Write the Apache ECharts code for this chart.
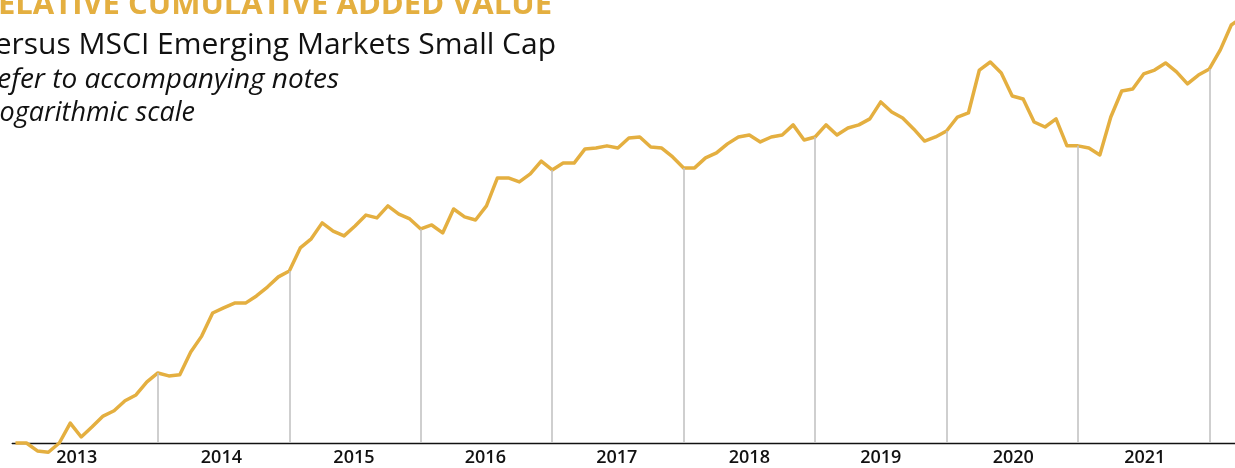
<!DOCTYPE html>
<html lang="en">
<head>
<meta charset="utf-8">
<title>Relative Cumulative Added Value</title>
</head>
<body style="margin: 0; background: #fff">
<div id="container" style="width: 1235px; height: 468px"></div>

<script type="text/javascript" src="https://cdn.jsdelivr.net/npm/echarts@6/dist/echarts.min.js"></script>

<script type="text/javascript">
var dom = document.getElementById('container');
var myChart = echarts.init(dom);

// Index 0 is the first month shown; the series runs past the right edge.
var values = [
    100.0, 100.0, 98.2, 97.9, 100.0, 104.7, 101.4, 103.8, 106.4, 107.7, 110.2, 111.7, 115.1,
    117.5, 116.7, 117.0, 123.3, 127.9, 134.9, 136.5, 138.0, 138.0, 140.3, 143.2, 146.6,
    148.6, 156.7, 160.0, 166.0, 162.9, 161.1, 164.8, 169.0, 167.9, 172.6, 169.4, 167.5,
    163.7, 165.2, 162.2, 171.4, 168.3, 167.1, 172.6, 184.1, 184.1, 182.4, 185.8, 191.4,
    187.5, 190.5, 190.5, 196.8, 197.2, 198.2, 197.2, 201.8, 202.3, 197.7, 197.2, 193.2,
    188.4, 188.4, 192.8, 195.0, 199.1, 202.3, 203.2, 200.0, 202.3, 203.2, 208.0, 200.9,
    202.3, 208.0, 203.2, 206.5, 208.0, 210.9, 219.3, 214.3, 211.3, 206.1, 200.4, 202.3,
    205.1, 211.8, 213.8, 236.0, 240.4, 234.4, 222.3, 220.8, 209.4, 207.0, 210.9, 198.2,
    198.2, 197.2, 194.1, 211.8, 224.9, 225.9, 233.9, 236.0, 239.9, 235.0, 228.6, 233.3,
    236.6, 247.2, 261.8, 266.5
];

// year-end months (index into values) that get a drop line
var yearEnds = [13, 25, 37, 49, 61, 73, 85, 97, 109];

// year labels and the month index each one sits under
var yearLabels = ['2013', '2014', '2015', '2016', '2017', '2018', '2019', '2020', '2021'];
var yearLabelAt = [5.6, 18.8, 30.9, 42.9, 54.9, 67, 79, 91.1, 103.1];

var gold = '#e4af40';

var option = {
    animation: false,
    grid: {
        left: 12.2,
        right: 0,
        top: 0,
        bottom: 25,
        containLabel: false
    },
    xAxis: {
        type: 'value',
        min: -0.3,
        max: 111.34,
        splitLine: { show: false },
        axisTick: { show: false },
        axisLine: { show: true, lineStyle: { color: '#111', width: 1.3 } },
        axisLabel: {
            customValues: yearLabelAt,
            margin: 6,
            color: '#111',
            fontFamily: 'Open Sans',
            fontWeight: 600,
            fontSize: 18,
            formatter: function (value) {
                var k = 0;
                for (var i = 1; i < yearLabelAt.length; i++) {
                    if (Math.abs(yearLabelAt[i] - value) < Math.abs(yearLabelAt[k] - value)) k = i;
                }
                return yearLabels[k];
            }
        }
    },
    yAxis: {
        type: 'log',
        logBase: 10,
        min: 100,
        max: 277.3,
        show: false,
        splitLine: { show: false }
    },
    graphic: [
        {
            type: 'text',
            style: {
                text: 'RELATIVE CUMULATIVE ADDED VALUE',
                x: 552, y: 5,
                textAlign: 'right', textVerticalAlign: 'middle',
                font: 'bold 31px "Open Sans"',
                fill: gold
            }
        },
        {
            type: 'text',
            style: {
                text: 'Versus MSCI Emerging Markets Small Cap',
                x: 556, y: 45,
                textAlign: 'right', textVerticalAlign: 'middle',
                font: '30px "Open Sans"',
                fill: '#111'
            }
        },
        {
            type: 'text',
            style: {
                text: 'Refer to accompanying notes',
                x: 339, y: 80,
                textAlign: 'right', textVerticalAlign: 'middle',
                font: 'italic 28px "Open Sans"',
                fill: '#111'
            }
        },
        {
            type: 'text',
            style: {
                text: 'Logarithmic scale',
                x: 195, y: 113,
                textAlign: 'right', textVerticalAlign: 'middle',
                font: 'italic 27px "Open Sans"',
                fill: '#111'
            }
        }
    ],
    series: [
        {
            // carrier for the year-end drop lines, drawn under the main line
            type: 'line',
            z: 1,
            silent: true,
            showSymbol: false,
            lineStyle: { opacity: 0 },
            data: values.map(function (v, i) { return [i, v]; }),
            markLine: {
                silent: true,
                symbol: 'none',
                label: { show: false },
                lineStyle: { color: '#c3c3c3', width: 1.6, type: 'solid' },
                data: yearEnds.map(function (i) {
                    return [{ coord: [i, 100] }, { coord: [i, values[i]] }];
                })
            }
        },
        {
            type: 'line',
            z: 3,
            silent: true,
            clip: false,
            showSymbol: false,
            lineStyle: { color: gold, width: 3.5, join: 'round' },
            data: values.map(function (v, i) { return [i, v]; })
        }
    ]
};

if (option && typeof option === 'object') {
    myChart.setOption(option);
}

window.addEventListener('resize', myChart.resize);
</script>
</body>
</html>
